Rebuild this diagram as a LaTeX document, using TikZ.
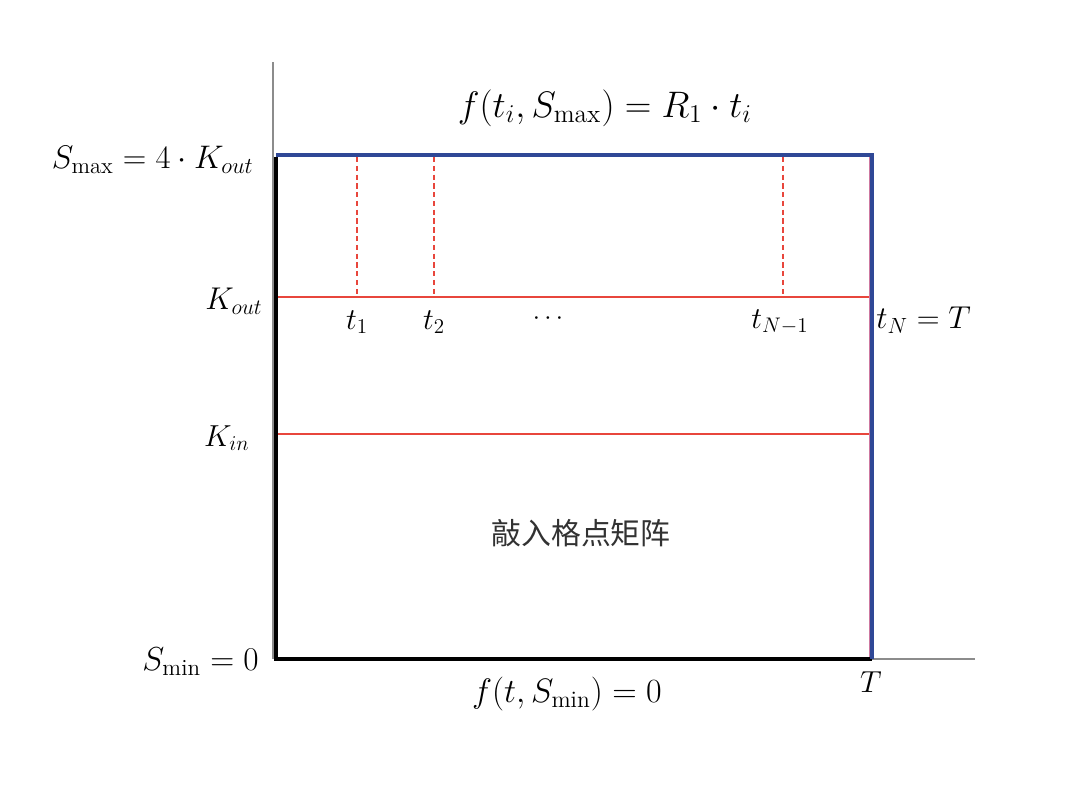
\documentclass[tikz,border=0pt]{standalone}
\usepackage{graphicx}
\usepackage{fontspec}
\newfontfamily\cjk{Noto Sans CJK SC}
\definecolor{myblue}{RGB}{47,72,150}
\definecolor{myred}{RGB}{232,70,60}
\definecolor{mypink}{RGB}{205,120,160}
\definecolor{axisgray}{RGB}{140,140,140}
\definecolor{cntext}{RGB}{50,50,50}
\newcommand{\mysc}[2]{\scalebox{#1}{#2}}
\tikzset{
  axisline/.style={draw=axisgray, line width=0.8pt},
  redline/.style={draw=myred, line width=0.7pt},
  pinkline/.style={draw=mypink, line width=0.6pt},
  reddash/.style={draw=myred, line width=0.7pt, dashed, dash pattern=on 3pt off 2pt},
  blackline/.style={draw=black, line width=2.8pt},
  blueline/.style={draw=myblue, line width=2.6pt},
  lbl/.style={inner sep=0pt, font=\fontsize{17.28}{20}\selectfont},
}
\begin{document}
\begin{tikzpicture}[x=0.02cm, y=-0.02cm]
\useasboundingbox (0,0) rectangle (1080,785);
% coordinates
\coordinate (axtop) at (273,62);
\coordinate (o) at (276,659);
\coordinate (tl) at (276,155);
\coordinate (tr) at (872,155);
\coordinate (br) at (872,659);
\coordinate (axend) at (975,659);
\coordinate (koL) at (276,297);
\coordinate (koR) at (870,297);
\coordinate (kiL) at (276,434);
\coordinate (kiR) at (870,434);
\coordinate (d1t) at (357,157);
\coordinate (d1b) at (357,297);
\coordinate (d2t) at (434,157);
\coordinate (d2b) at (434,297);
\coordinate (d3t) at (783,157);
\coordinate (d3b) at (783,297);
\coordinate (rvT) at (869.5,157);
\coordinate (rvB) at (869.5,657);
% axes
\draw[axisline] (axtop) -- (273,659);
\draw[axisline] (o) -- (axend);
% red lines
\draw[redline] (koL) -- (koR);
\draw[redline] (kiL) -- (kiR);
\draw[reddash] (d1t) -- (d1b);
\draw[reddash] (d2t) -- (d2b);
\draw[reddash] (d3t) -- (d3b);
% black lines
\draw[blackline] (276,157) -- (o) -- (br);
% blue lines
\draw[blueline, line join=miter] (tl) -- (tr) -- (br);
\draw[pinkline] (rvT) -- (rvB);
% labels
\node[lbl] (ftop) at (605,108) {\mysc{1.215}{$f(t_i,S_{\max})=R_1\cdot t_i$}};
\node[lbl, anchor=east] (smax) at (254,160) {\mysc{1.076}{$S_{\max}=4\cdot K_{out}$}};
\node[lbl, anchor=east] (kout) at (263,301) {\mysc{1.036}{$K_{out}$}};
\node[lbl, anchor=east] (kin) at (250,438) {$K_{in}$};
\node[lbl, anchor=east] (smin) at (259,662) {\mysc{1.094}{$S_{\min}=0$}};
\node[lbl] (fbot) at (567,694) {\mysc{1.117}{$f(t,S_{\min})=0$}};
\node[lbl] (tT) at (871,682) {$T$};
\node[lbl] (t1) at (357,322) {$t_1$};
\node[lbl] (t2) at (434,322) {$t_2$};
\node[lbl] (dots) at (548,319) {\mysc{0.85}{$\cdots$}};
\node[lbl] (tn1) at (780,322) {$t_{N-1}$};
\node[lbl, anchor=west] (tn) at (876,320) {\mysc{1.042}{$t_N=T$}};
\node[inner sep=0pt, text=cntext, font=\cjk\fontsize{17}{19}\selectfont] (cn) at (581,533) {敲入格点矩阵};
\end{tikzpicture}
\end{document}
